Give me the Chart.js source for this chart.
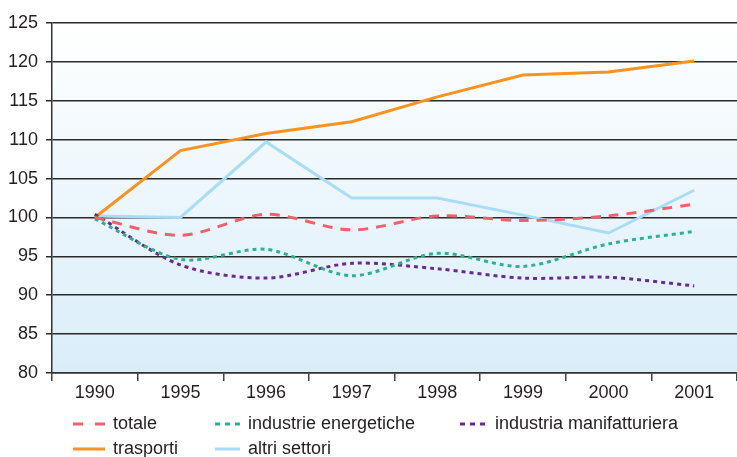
<!DOCTYPE html>
<html><head><meta charset="utf-8">
<script src="https://cdn.jsdelivr.net/npm/chart.js@4.4.1/dist/chart.umd.min.js"></script>
<style>html,body{margin:0;padding:0;background:#fff;}#wrap{width:737px;height:457px;position:relative;}</style>
</head><body><div id="wrap"><canvas id="c" width="737" height="457"></canvas></div>
<script>
const categories = ['1990','1995','1996','1997','1998','1999','2000','2001'];
const totale = [100, 97.7, 100.4, 98.4, 100.2, 99.6, 100.2, 101.7];
const industrieEnergetiche = [99.8, 94.6, 95.9, 92.5, 95.4, 93.7, 96.6, 98.2];
const industriaManifatturiera = [100.4, 93.9, 92.2, 94.1, 93.4, 92.2, 92.3, 91.2];
const trasporti = [100, 108.6, 110.8, 112.3, 115.5, 118.3, 118.7, 120.1];
const altriSettori = [100.2, 100, 109.7, 102.5, 102.5, 100.3, 98.0, 103.5];
const yMin = 80, yMax = 125, yStep = 5;

const FONT = "'Liberation Sans', Arial, Helvetica, sans-serif";

const bgPlugin = {
  id: 'bg',
  beforeDraw(chart) {
    const {ctx, chartArea: a} = chart;
    const g = ctx.createLinearGradient(0, a.top, 0, a.bottom);
    g.addColorStop(0, '#ffffff');
    g.addColorStop(1, '#d9edf9');
    ctx.save();
    ctx.fillStyle = g;
    ctx.fillRect(a.left, a.top, a.right - a.left, a.bottom - a.top);
    ctx.restore();
  }
};

const legendPlugin = {
  id: 'customLegend',
  afterDraw(chart) {
    const {ctx} = chart;
    // [datasetIndex, row, sampleX, sampleWidth, dash, textX]
    const items = [
      [0, 0, 73, 32, [10,12], 113],
      [1, 0, 215, 25, [5,5], 248],
      [2, 0, 460, 26, [5,5], 495],
      [3, 1, 73, 32, [], 113],
      [4, 1, 215, 25, [], 248]
    ];
    const rows = [424, 449];
    ctx.save();
    ctx.font = '18px ' + FONT;
    ctx.textBaseline = 'middle';
    ctx.fillStyle = '#231f20';
    items.forEach(([di, r, sx, sw, dash, tx]) => {
      const ds = chart.data.datasets[di];
      const y = rows[r];
      ctx.strokeStyle = ds.borderColor;
      ctx.lineWidth = 3;
      ctx.lineCap = 'butt';
      ctx.setLineDash(dash);
      ctx.beginPath();
      ctx.moveTo(sx, y);
      ctx.lineTo(sx + sw, y);
      ctx.stroke();
      ctx.setLineDash([]);
      ctx.fillText(ds.label, tx, y);
    });
    ctx.restore();
  }
};

new Chart(document.getElementById('c'), {
  type: 'line',
  data: {
    labels: categories,
    datasets: [
      {label: 'totale', data: totale, borderColor: '#f0606a', borderDash: [10,8], tension: 0.3},
      {label: 'industrie energetiche', data: industrieEnergetiche, borderColor: '#2bb38e', borderDash: [4,4], tension: 0.3},
      {label: 'industria manifatturiera', data: industriaManifatturiera, borderColor: '#6b2b8e', borderDash: [4,4], tension: 0.3},
      {label: 'trasporti', data: trasporti, borderColor: '#f7931e', tension: 0},
      {label: 'altri settori', data: altriSettori, borderColor: '#a9ddf6', tension: 0}
    ].map(d => Object.assign({borderWidth: 3, pointRadius: 0, fill: false, borderCapStyle: 'butt'}, d))
  },
  options: {
    responsive: false,
    animation: false,
    devicePixelRatio: 1,
    layout: {padding: {top: 23, bottom: 54, right: 0, left: 0}},
    plugins: {legend: {display: false}, tooltip: {enabled: false}},
    scales: {
      x: {
        offset: true,
        grid: {offset: true, drawOnChartArea: false, drawTicks: true, tickLength: 8, color: '#444', lineWidth: 1.5},
        border: {color: '#333', width: 1.5},
        ticks: {color: '#231f20', font: {family: FONT, size: 18}, padding: 1, maxRotation: 0},
        afterFit(s) { s.height = 30; }
      },
      y: {
        min: yMin, max: yMax,
        grid: {color: '#2a2a2a', lineWidth: 1.5, tickLength: 6, drawTicks: true},
        border: {color: '#333', width: 1.5},
        ticks: {stepSize: yStep, color: '#231f20', font: {family: FONT, size: 18}, padding: 8},
        afterFit(s) { s.width = 52; }
      }
    }
  },
  plugins: [bgPlugin, legendPlugin]
});
</script></body></html>
